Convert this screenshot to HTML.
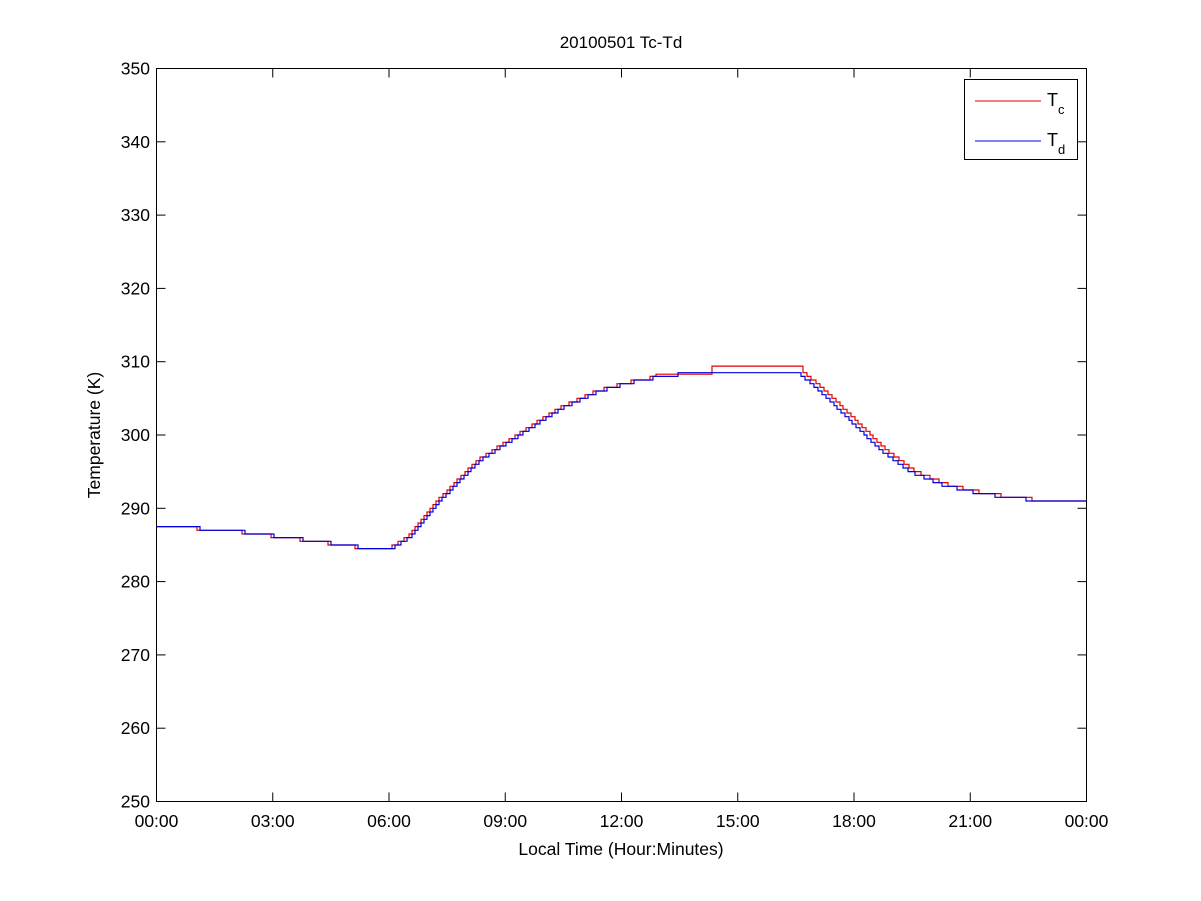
<!DOCTYPE html>
<html><head><meta charset="utf-8"><style>
body{margin:0;background:#fff;}
svg{display:block;font-family:"Liberation Sans",sans-serif;}
</style></head><body>
<svg id="s" width="1201" height="901" xmlns="http://www.w3.org/2000/svg">
<rect width="1201" height="901" fill="#fff"/>
<text x="621" y="48" font-size="17" text-anchor="middle">20100501 Tc-Td</text>
<g id="ticks" stroke="#000" stroke-width="1"></g>
<g id="lbl" font-size="17.5"></g>
<text x="621" y="855" font-size="17.5" text-anchor="middle">Local Time (Hour:Minutes)</text>
<text transform="translate(100,435) rotate(-90)" font-size="17.5" text-anchor="middle">Temperature (K)</text>
<polyline id="red" fill="none" stroke="#e00000" stroke-width="1.2"/>
<polyline id="blue" fill="none" stroke="#0000e0" stroke-width="1.2"/>
<rect x="156.5" y="68.5" width="930" height="733" fill="none" stroke="#000"/>
<rect x="964.5" y="79.5" width="113" height="80" fill="#fff" stroke="#000"/>
<line x1="975" y1="101" x2="1041" y2="101" stroke="#e00000"/>
<line x1="975" y1="141" x2="1041" y2="141" stroke="#0000e0"/>
<text x="1047" y="106" font-size="18">T<tspan font-size="13" dy="8">c</tspan></text>
<text x="1047" y="146" font-size="18">T<tspan font-size="13" dy="8">d</tspan></text>
</svg>
<script>
const X0=156.5,X1=1086.5,Y0=801.5,Y1=68.5;
const yk=t=>Y0-(t-250)/100*(Y0-Y1);
let tk='',lb='';
for(let i=0;i<=8;i++){const x=X0+i*(X1-X0)/8;tk+=`<line x1="${x}" y1="${Y0}" x2="${x}" y2="${Y0-9}"/><line x1="${x}" y1="${Y1}" x2="${x}" y2="${Y1+9}"/>`;
const h=['00:00','03:00','06:00','09:00','12:00','15:00','18:00','21:00','00:00'][i];lb+=`<text x="${x}" y="827" text-anchor="middle">${h}</text>`;}
for(let t=250;t<=350;t+=10){const y=yk(t);tk+=`<line x1="${X0}" y1="${y}" x2="${X0+9}" y2="${y}"/><line x1="${X1}" y1="${y}" x2="${X1-9}" y2="${y}"/>`;lb+=`<text x="150" y="${y+6}" text-anchor="end">${t}</text>`;}
document.getElementById('ticks').innerHTML=tk;document.getElementById('lbl').innerHTML=lb;
const A=[[156,287.6],[230,287.0],[300,285.8],[350,284.9],[370,284.5],[392,284.5],[410,286],[440,291],[480,296.5],[520,300],[560,303.5],[600,306],[640,307.5],[680,308.3],[800,308.3],[820,306],[850,302],[880,298],[910,295],[940,293.3],[980,292],[1020,291.3],[1050,291],[1087,291]];
function T(x){if(x<156)x=156;for(let i=1;i<A.length;i++)if(x<=A[i][0]){const[a,b]=A[i-1],[c,d]=A[i];return b+(d-b)*(x-a)/(c-a);}return 291;}
const q=0.5;
function path(f){let p=[],prev=null;for(let x=156;x<=1087;x++){const y=yk(f(x));if(prev!==null&&Math.abs(y-prev)>0.1)p.push(x+','+prev.toFixed(1));p.push(x+','+y.toFixed(1));prev=y;}return p.join(' ');}
document.getElementById('blue').setAttribute('points',path(x=>Math.round(T(x)/q)*q));
document.getElementById('red').setAttribute('points',path(x=>{if(x>=712&&x<=802)return 309.4;if(x>=656&&x<712)return 308.3;const s=x<700?x+3:x-6;return Math.round(T(s)/q)*q;}));
</script>
</body></html>
